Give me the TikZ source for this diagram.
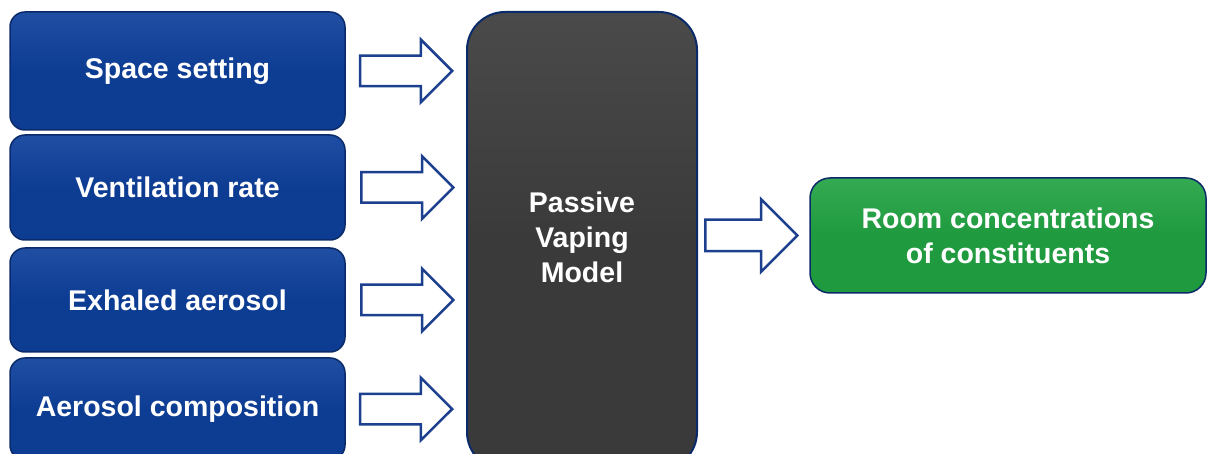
\documentclass[tikz,border=0pt]{standalone}
\usepackage{fontspec}
\setmainfont{Liberation Sans}
\usetikzlibrary{shapes.arrows,calc}
\definecolor{boxblue}{HTML}{0D3C93}
\definecolor{boxbluetop}{HTML}{1F4EA3}
\definecolor{navy}{HTML}{0B2A6A}
\definecolor{arrowblue}{HTML}{1C3F8E}
\definecolor{modelgray}{HTML}{3A3A3A}
\definecolor{modelgraytop}{HTML}{4A4A4A}
\definecolor{roomgreen}{HTML}{1F9A3F}
\definecolor{roomgreentop}{HTML}{34AA52}
\begin{document}
\begin{tikzpicture}[x=1pt,y=-1pt,
  boxtext/.style={text=white, font=\bfseries\fontsize{28.5}{35}\selectfont, align=center},
  inbox/.style={boxtext, draw=navy, line width=1.5pt, rounded corners=15pt,
    top color=boxbluetop, bottom color=boxblue, middle color=boxblue,
    minimum width=335pt, inner sep=0pt},
  modelbox/.style={draw=navy, line width=2pt, rounded corners=38pt,
    top color=modelgraytop, bottom color=modelgray, middle color=modelgray,
    minimum width=230pt, minimum height=458pt, inner sep=0pt},
  roombox/.style={boxtext, draw=navy, line width=1.5pt, rounded corners=20pt,
    top color=roomgreentop, bottom color=roomgreen, middle color=roomgreen,
    minimum width=396pt, minimum height=115pt, inner sep=0pt},
  blockarrow/.style={single arrow, draw=arrowblue, fill=white, line width=2.5pt,
    minimum height=92pt, single arrow head extend=16pt, single arrow head indent=0pt,
    inner xsep=0pt, inner ysep=14pt, anchor=tail},
  bigblockarrow/.style={blockarrow, single arrow head extend=20.5pt, inner ysep=14.5pt}
]
\useasboundingbox (0,0) rectangle (1208,454);
\fill[white] (0,0) rectangle (1208,454);

\node[inbox, minimum height=118pt] (b1) at (177.5,71) {Space setting};
\node[inbox, minimum height=105pt] (b2) at (177.5,187.5) {Ventilation rate};
\node[inbox, minimum height=104pt] (b3) at (177.5,300) {Exhaled aerosol};
\node[inbox, minimum height=102pt] (b4) at (177.5,409) {Aerosol composition};

\node[modelbox] (model) at (582,241) {};
\node[boxtext] (modeltext) at (582,237) {Passive\\Vaping\\Model};

\node[roombox] (room) at (1008,235.5) {Room concentrations\\of constituents};

\node[blockarrow] (a1) at ($(b1.east)!0.11!(model.west |- b1.east)$) {};
\node[blockarrow] (a2) at ($(b2.east)!0.12!(model.west |- b2.east)$) {};
\node[blockarrow] (a3) at ($(b3.east)!0.12!(model.west |- b3.east)$) {};
\node[blockarrow] (a4) at ($(b4.east)!0.11!(model.west |- b4.east)$) {};
\node[bigblockarrow] (a5) at ($(model.east |- room.west)!0.055!(room.west)$) {};
\end{tikzpicture}
\end{document}
